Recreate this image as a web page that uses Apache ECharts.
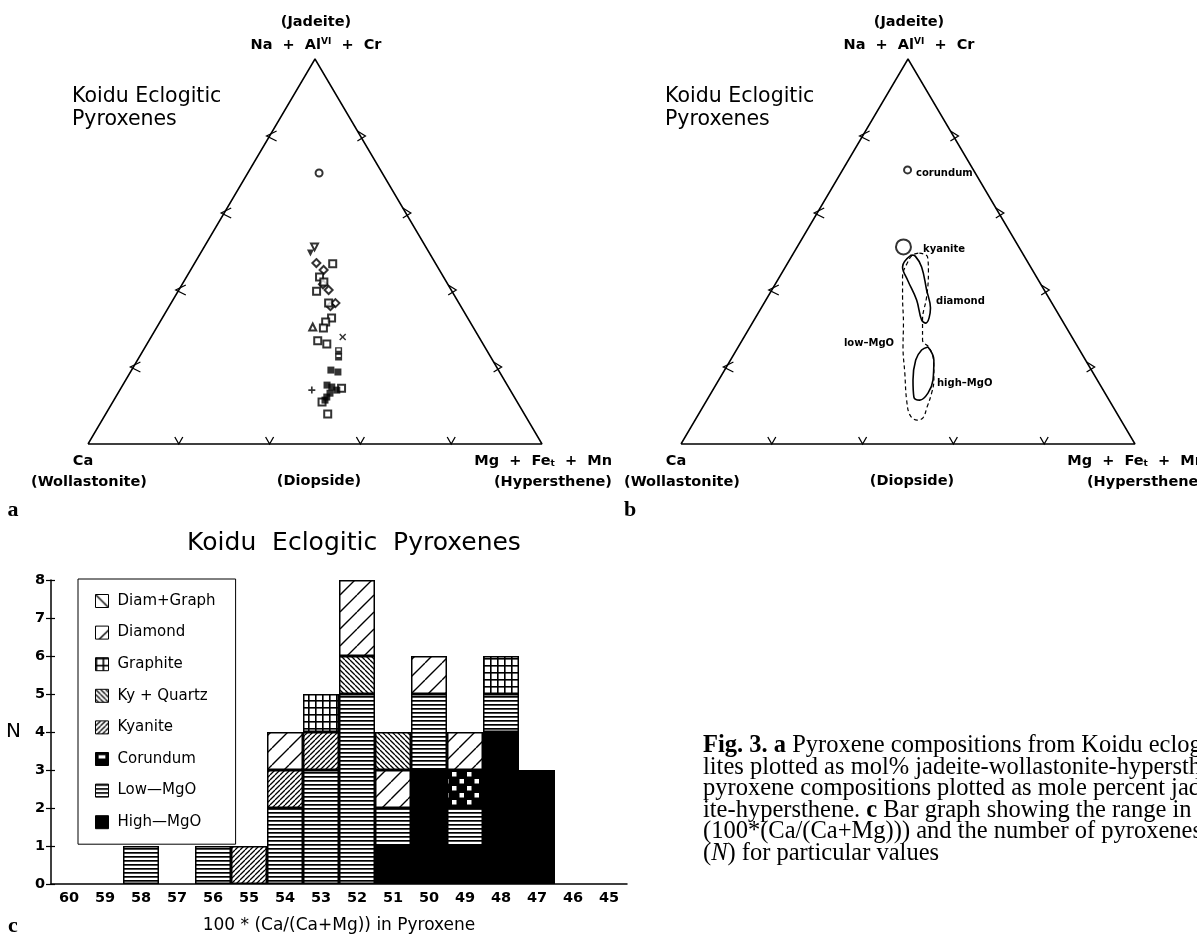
<!DOCTYPE html>
<html>
<head>
<meta charset="utf-8">
<title>Koidu Eclogitic Pyroxenes</title>
<script src="https://cdn.jsdelivr.net/npm/echarts@6/dist/echarts.min.js"></script>
<style>
html, body { margin: 0; padding: 0; background: #fff; }
#chart { width: 1197px; height: 936px; }
</style>
</head>
<body>
<div id="chart"></div>
<script>
// ---- c: number of pyroxenes per 100*Ca/(Ca+Mg) bin ----
const ratioBins   = ['60', '59', '58', '57', '56', '55', '54', '53', '52', '51', '50', '49', '48', '47', '46', '45']
const highMgO     = [null, null, null, null, null, null, null, null, null, 1, 3, 1, 4, 3, null, null]
const lowMgO      = [null, null, 1, null, 1, null, 2, 3, 5, 1, 2, 1, 1, null, null, null]
const corundum    = [null, null, null, null, null, null, null, null, null, null, null, 1, null, null, null, null]
const kyanite     = [null, null, null, null, null, 1, 1, 1, null, null, null, null, null, null, null, null]
const diamondLow  = [null, null, null, null, null, null, null, null, null, 1, null, null, null, null, null, null]
const kyQuartz    = [null, null, null, null, null, null, null, null, 1, 1, null, null, null, null, null, null]
const graphite    = [null, null, null, null, null, null, null, 1, null, null, null, null, 1, null, null, null]
const diamond     = [null, null, null, null, null, null, 1, null, 2, null, 1, 1, null, null, null, null]
const diamGraph   = [null, null, null, null, null, null, null, null, null, null, null, null, null, null, null, null]
const nTicks      = [0, 8]

// ---- a: compositions, [En (Mg+Fe+Mn) %, Jd (Na+Al+Cr) %], Wo is the rest ----
const ptCircle    = [[15.7, 70.4]]
const ptTriDown   = [[24.3, 51.2]]
const ptTriDownF  = [[24.2, 49.6]]
const ptDiamond   = [[26.8, 47.0], [29.3, 45.2], [31.0, 41.5], [33.0, 40.0], [36.2, 36.6], [35.5, 35.8]]
const ptSquare    = [[30.5, 46.8], [29.3, 43.4], [30.9, 42.1], [30.5, 39.7], [34.7, 36.6], [37.3, 32.7], [36.5, 31.7],
                     [36.8, 30.1], [37.2, 26.8], [39.6, 26.0], [48.9, 7.8], [46.1, 10.9], [48.6, 14.5]]
const ptTriUp     = [[34.3, 30.4]]
const ptCross     = [[42.2, 27.8]]
const ptPlus      = [[42.3, 14.0]]
const ptHalf      = [[43.1, 24.2], [43.9, 22.6]]
const ptFilled    = [[43.9, 19.2], [45.7, 18.7], [45.0, 15.3], [46.3, 14.8], [47.8, 14.0], [46.7, 13.2], [46.5, 12.2], [46.5, 11.4]]

// ---- b: outlines of the groups, same units ----
const bCorundum   = [[14.3, 71.2]]
const bKyanite    = [[23.4, 51.2]]
const bDiamond    = [[26.2, 49.1], [25.8, 46.0], [28.6, 42.6], [33.2, 37.4], [36.9, 32.2], [38.2, 31.4], [37.3, 35.3],
                     [34.1, 40.0], [30.0, 46.0], [27.2, 48.8]]
const bHighMgO    = [[41.8, 25.2], [44.8, 21.8], [47.2, 16.6], [47.8, 13.2], [46.9, 11.4], [45.2, 12.2], [42.8, 16.6],
                     [40.8, 21.8], [40.8, 24.4]]
const bLowMgO     = [[27.7, 49.6], [30.0, 48.6], [32.3, 44.4], [35.0, 38.2], [37.1, 32.2], [39.7, 27.0], [42.3, 24.9],
                     [45.0, 21.3], [47.4, 16.6], [48.6, 13.2], [49.4, 9.6], [49.9, 6.8], [48.9, 6.2], [46.7, 7.5],
                     [44.0, 11.4], [40.1, 18.4], [36.3, 25.2], [33.3, 31.4], [29.7, 38.2], [27.1, 43.4], [26.3, 47.3],
                     [26.5, 49.1]]
const sideTicks   = [20, 40, 60, 80]

const FONT = 'DejaVu Sans'

// ternary -> plane (x = En + Jd/2, y = Jd)
const tern = p => [p[0] + p[1] / 2, p[1]]
const closed = arr => arr.concat([arr[0]]).map(tern)

function pattern(w, h, draw) {
  const c = document.createElement('canvas')
  c.width = w
  c.height = h
  const ctx = c.getContext('2d')
  ctx.fillStyle = '#fff'
  ctx.fillRect(0, 0, w, h)
  ctx.strokeStyle = '#000'
  ctx.fillStyle = '#000'
  draw(ctx, w, h)
  return { image: c, repeat: 'repeat' }
}
function hatch(s, lw, back) {
  return pattern(s, s, ctx => {
    ctx.lineWidth = lw
    ctx.beginPath()
    for (const k of [-s, 0, s]) {
      if (back) { ctx.moveTo(k, 0); ctx.lineTo(k + s, s) } else { ctx.moveTo(k, s); ctx.lineTo(k + s, 0) }
    }
    ctx.stroke()
  })
}
const fills = {
  diamGraph: hatch(17, 1.4, true),
  diamond: hatch(17, 1.4, false),
  graphite: pattern(7, 7, ctx => { ctx.fillRect(0, 0, 7, 1.6); ctx.fillRect(0, 0, 1.6, 7) }),
  kyQuartz: hatch(5, 1.3, true),
  kyanite: hatch(5, 1.3, false),
  corundum: pattern(15, 14, ctx => {
    ctx.fillRect(0, 0, 15, 14)
    ctx.fillStyle = '#fff'
    ctx.fillRect(2, 2, 4.5, 4.5)
    ctx.fillRect(9.5, 9, 4.5, 4.5)
  }),
  lowMgO: pattern(4, 4, ctx => ctx.fillRect(0, 0, 4, 1.7)),
  highMgO: '#000'
}

function renderTick(params, api) {
  const p = api.coord([api.value(0), api.value(1)])
  const shapes = {
    0: [[-4, -7], [0, 0], [4, -7]],
    1: [[7, -5], [-3, 0], [7, 5]],
    2: [[-3, -5], [5, 0], [-3, 5]]
  }
  return {
    type: 'polyline',
    shape: { points: shapes[api.value(2)].map(d => [p[0] + d[0], p[1] + d[1]]) },
    style: { stroke: '#000', lineWidth: 1.3, fill: null }
  }
}
const tickData = []
sideTicks.forEach(f => {
  tickData.push(tern([f, 0]).concat(0))
  tickData.push(tern([0, f]).concat(1))
  tickData.push(tern([100 - f, f]).concat(2))
})
const outline = [[0, 0], [100, 0], [0, 100], [0, 0]].map(tern)

function triangleFrame(i) {
  return [
    { type: 'line', xAxisIndex: i, yAxisIndex: i, data: outline, symbol: 'none', clip: false,
      lineStyle: { color: '#000', width: 1.5 }, silent: true },
    { type: 'custom', xAxisIndex: i, yAxisIndex: i, data: tickData, renderItem: renderTick, clip: false, silent: true }
  ]
}
function pts(i, data, symbol, extra) {
  return Object.assign({
    type: 'scatter', xAxisIndex: i, yAxisIndex: i, data: data.map(tern), symbol, symbolSize: 7,
    itemStyle: { color: '#000' }, clip: false, z: 5
  }, extra || {})
}
function loop(data, dashed) {
  return {
    type: 'line', xAxisIndex: 1, yAxisIndex: 1, data: closed(data), symbol: 'none', smooth: 0.4, clip: false,
    lineStyle: { color: '#000', width: dashed ? 1.2 : 1.6, type: dashed ? [4, 3] : 'solid' }
  }
}

const halfSquare = 'path://M0,0H10V10H0Z M2,1.8V5H8V1.8Z'
const crossPath = 'path://M0,1.5L1.5,0L5,3.5L8.5,0L10,1.5L6.5,5L10,8.5L8.5,10L5,6.5L1.5,10L0,8.5L3.5,5Z'
const plusPath = 'path://M3.8,0H6.2V3.8H10V6.2H6.2V10H3.8V6.2H0V3.8H3.8Z'

const stack = [
  ['High\u2014MgO', highMgO, fills.highMgO],
  ['Low\u2014MgO', lowMgO, fills.lowMgO],
  ['Corundum', corundum, fills.corundum],
  ['Kyanite', kyanite, fills.kyanite],
  ['Diamond', diamondLow, fills.diamond],   // in bin 51 the diamond box sits under Ky + Quartz
  ['Ky + Quartz', kyQuartz, fills.kyQuartz],
  ['Graphite', graphite, fills.graphite],
  ['Diamond', diamond, fills.diamond],
  ['Diam+Graph', diamGraph, fills.diamGraph]
]
const barSeries = stack.map(s => ({
  name: s[0], type: 'bar', stack: 'n', xAxisIndex: 2, yAxisIndex: 2, data: s[1], barCategoryGap: '0%',
  itemStyle: { color: s[2], borderColor: '#000', borderWidth: 1.5 }
}))

function txt(text, x, y, o) {
  return {
    type: 'text', x, y, silent: true,
    style: Object.assign({ text, fill: '#000', fontFamily: FONT, fontSize: 14.5, fontWeight: 'bold',
      align: 'center', verticalAlign: 'middle' }, o || {})
  }
}
const supRich = {
  sup: { fontFamily: FONT, fontSize: 9, fontWeight: 'bold', verticalAlign: 'top', fill: '#000' },
  sub: { fontFamily: FONT, fontSize: 9, fontWeight: 'bold', verticalAlign: 'bottom', fill: '#000' }
}
function triangleTexts(dx) {
  return [
    txt('Koidu Eclogitic', 72 + dx, 97, { align: 'left', fontWeight: 'normal', fontSize: 20.5 }),
    txt('Pyroxenes', 72 + dx, 120, { align: 'left', fontWeight: 'normal', fontSize: 20.5 }),
    txt('(Jadeite)', 316 + dx, 22),
    txt('Na  +  Al{sup|VI}  +  Cr', 316 + dx, 45, { rich: supRich }),
    txt('Ca', 83 + dx, 461),
    txt('(Wollastonite)', 89 + dx, 482),
    txt('(Diopside)', 319 + dx, 481),
    txt('Mg  +  Fe{sub|t}  +  Mn', 612 + dx, 461, { align: 'right', rich: supRich }),
    txt('(Hypersthene)', 612 + dx, 482, { align: 'right' })
  ]
}
const capRich = {
  b: { fontFamily: 'Liberation Serif', fontSize: 24.5, fontWeight: 'bold', fill: '#000' },
  i: { fontFamily: 'Liberation Serif', fontSize: 24.5, fontStyle: 'italic', fill: '#000' }
}
const caption = [
  '{b|Fig. 3.} {b|a} Pyroxene compositions from Koidu eclogites',
  'lites plotted as mol% jadeite-wollastonite-hypersthene. {b|b} Outline of',
  'pyroxene compositions plotted as mole percent jadeite-wollastonite-',
  'ite-hypersthene. {b|c} Bar graph showing the range in',
  '(100*(Ca/(Ca+Mg))) and the number of pyroxenes',
  '({i|N}) for particular values'
]
const captionTexts = caption.map((line, k) => txt(line, 703, 746 + k * 21.5, {
  align: 'left', fontFamily: 'Liberation Serif', fontWeight: 'normal', fontSize: 24.5, rich: capRich
}))
const panelTexts = [
  txt('a', 13, 510, { fontFamily: 'Liberation Serif', fontSize: 22 }),
  txt('b', 630, 510, { fontFamily: 'Liberation Serif', fontSize: 22 }),
  txt('c', 13, 926, { fontFamily: 'Liberation Serif', fontSize: 22 })
]
const groupTexts = [
  txt('corundum', 916, 173, { align: 'left', fontSize: 10 }),
  txt('kyanite', 923, 249, { align: 'left', fontSize: 10 }),
  txt('diamond', 936, 301, { align: 'left', fontSize: 10 }),
  txt('low\u2013MgO', 869, 343, { fontSize: 10 }),
  txt('high\u2013MgO', 937, 383, { align: 'left', fontSize: 10 })
]

const hiddenAxis = i => ({ type: 'value', gridIndex: i, min: 0, max: 100, show: false })
const axisText = { fontFamily: FONT, fontSize: 14.5, fontWeight: 'bold', color: '#000' }

const chart = echarts.init(document.getElementById('chart'))
chart.setOption({
  animation: false,
  backgroundColor: '#fff',
  grid: [
    { left: 88, top: 59, width: 454, height: 385 },
    { left: 681, top: 59, width: 454, height: 385 },
    { left: 51, top: 580, width: 576, height: 304 }
  ],
  xAxis: [
    hiddenAxis(0),
    hiddenAxis(1),
    {
      type: 'category', gridIndex: 2, data: ratioBins, boundaryGap: true,
      axisLine: { lineStyle: { color: '#000', width: 1.5 } },
      axisTick: { show: false },
      axisLabel: Object.assign({ margin: 7 }, axisText),
      name: '100 * (Ca/(Ca+Mg)) in Pyroxene', nameLocation: 'middle', nameGap: 33,
      nameTextStyle: { fontFamily: FONT, fontSize: 17, color: '#000' }
    }
  ],
  yAxis: [
    hiddenAxis(0),
    hiddenAxis(1),
    {
      type: 'value', gridIndex: 2, min: nTicks[0], max: nTicks[1], interval: 1, position: 'left',
      axisLine: { show: true, lineStyle: { color: '#000', width: 1.5 } },
      axisTick: { show: true, length: 5, lineStyle: { color: '#000', width: 1.2 } },
      splitLine: { show: false },
      axisLabel: Object.assign({ margin: 6 }, axisText),
      name: 'N', nameLocation: 'middle', nameGap: 30, nameRotate: 0,
      nameTextStyle: { fontFamily: FONT, fontSize: 20, color: '#000' }
    },
    {
      type: 'value', gridIndex: 2, min: nTicks[0], max: nTicks[1], interval: 1, position: 'left', offset: 0,
      axisLine: { show: false }, splitLine: { show: false }, axisLabel: { show: false },
      axisTick: { show: true, inside: true, length: 4, lineStyle: { color: '#000', width: 1.2 } }
    }
  ],
  legend: {
    left: 78, top: 579, orient: 'vertical', selectedMode: false,
    borderColor: '#000', borderWidth: 1, padding: [14.5, 20, 14.5, 17],
    itemWidth: 13, itemHeight: 13, itemGap: 16.6, icon: 'rect',
    itemStyle: { borderColor: '#000', borderWidth: 1 },
    textStyle: { fontFamily: FONT, fontSize: 15, color: '#000', lineHeight: 13, padding: [0, 0, 0, 4] },
    data: ['Diam+Graph', 'Diamond', 'Graphite', 'Ky + Quartz', 'Kyanite',
      { name: 'Corundum', icon: halfSquare, itemStyle: { color: '#000' } },
      'Low\u2014MgO', 'High\u2014MgO']
  },
  graphic: [].concat(
    triangleTexts(0), triangleTexts(593), captionTexts, panelTexts, groupTexts,
    [txt('Koidu  Eclogitic  Pyroxenes', 354, 543, { fontWeight: 'normal', fontSize: 25 })]
  ),
  series: [].concat(
    triangleFrame(0),
    [
      pts(0, ptCircle, 'emptyCircle'),
      pts(0, ptTriDown, 'emptyTriangle', { symbolRotate: 180 }),
      pts(0, ptTriDownF, 'triangle', { symbolRotate: 180 }),
      pts(0, ptDiamond, 'emptyDiamond', { symbolSize: 8 }),
      pts(0, ptSquare, 'emptyRect'),
      pts(0, ptTriUp, 'emptyTriangle'),
      pts(0, ptCross, crossPath),
      pts(0, ptPlus, plusPath),
      pts(0, ptHalf, halfSquare),
      pts(0, ptFilled, 'rect')
    ],
    triangleFrame(1),
    [
      pts(1, bCorundum, 'emptyCircle'),
      pts(1, bKyanite, 'emptyCircle', { symbolSize: 15, itemStyle: { color: '#000', borderWidth: 1.5 } }),
      loop(bDiamond, false),
      loop(bHighMgO, false),
      loop(bLowMgO, true)
    ],
    barSeries
  )
})
</script>
</body>
</html>
